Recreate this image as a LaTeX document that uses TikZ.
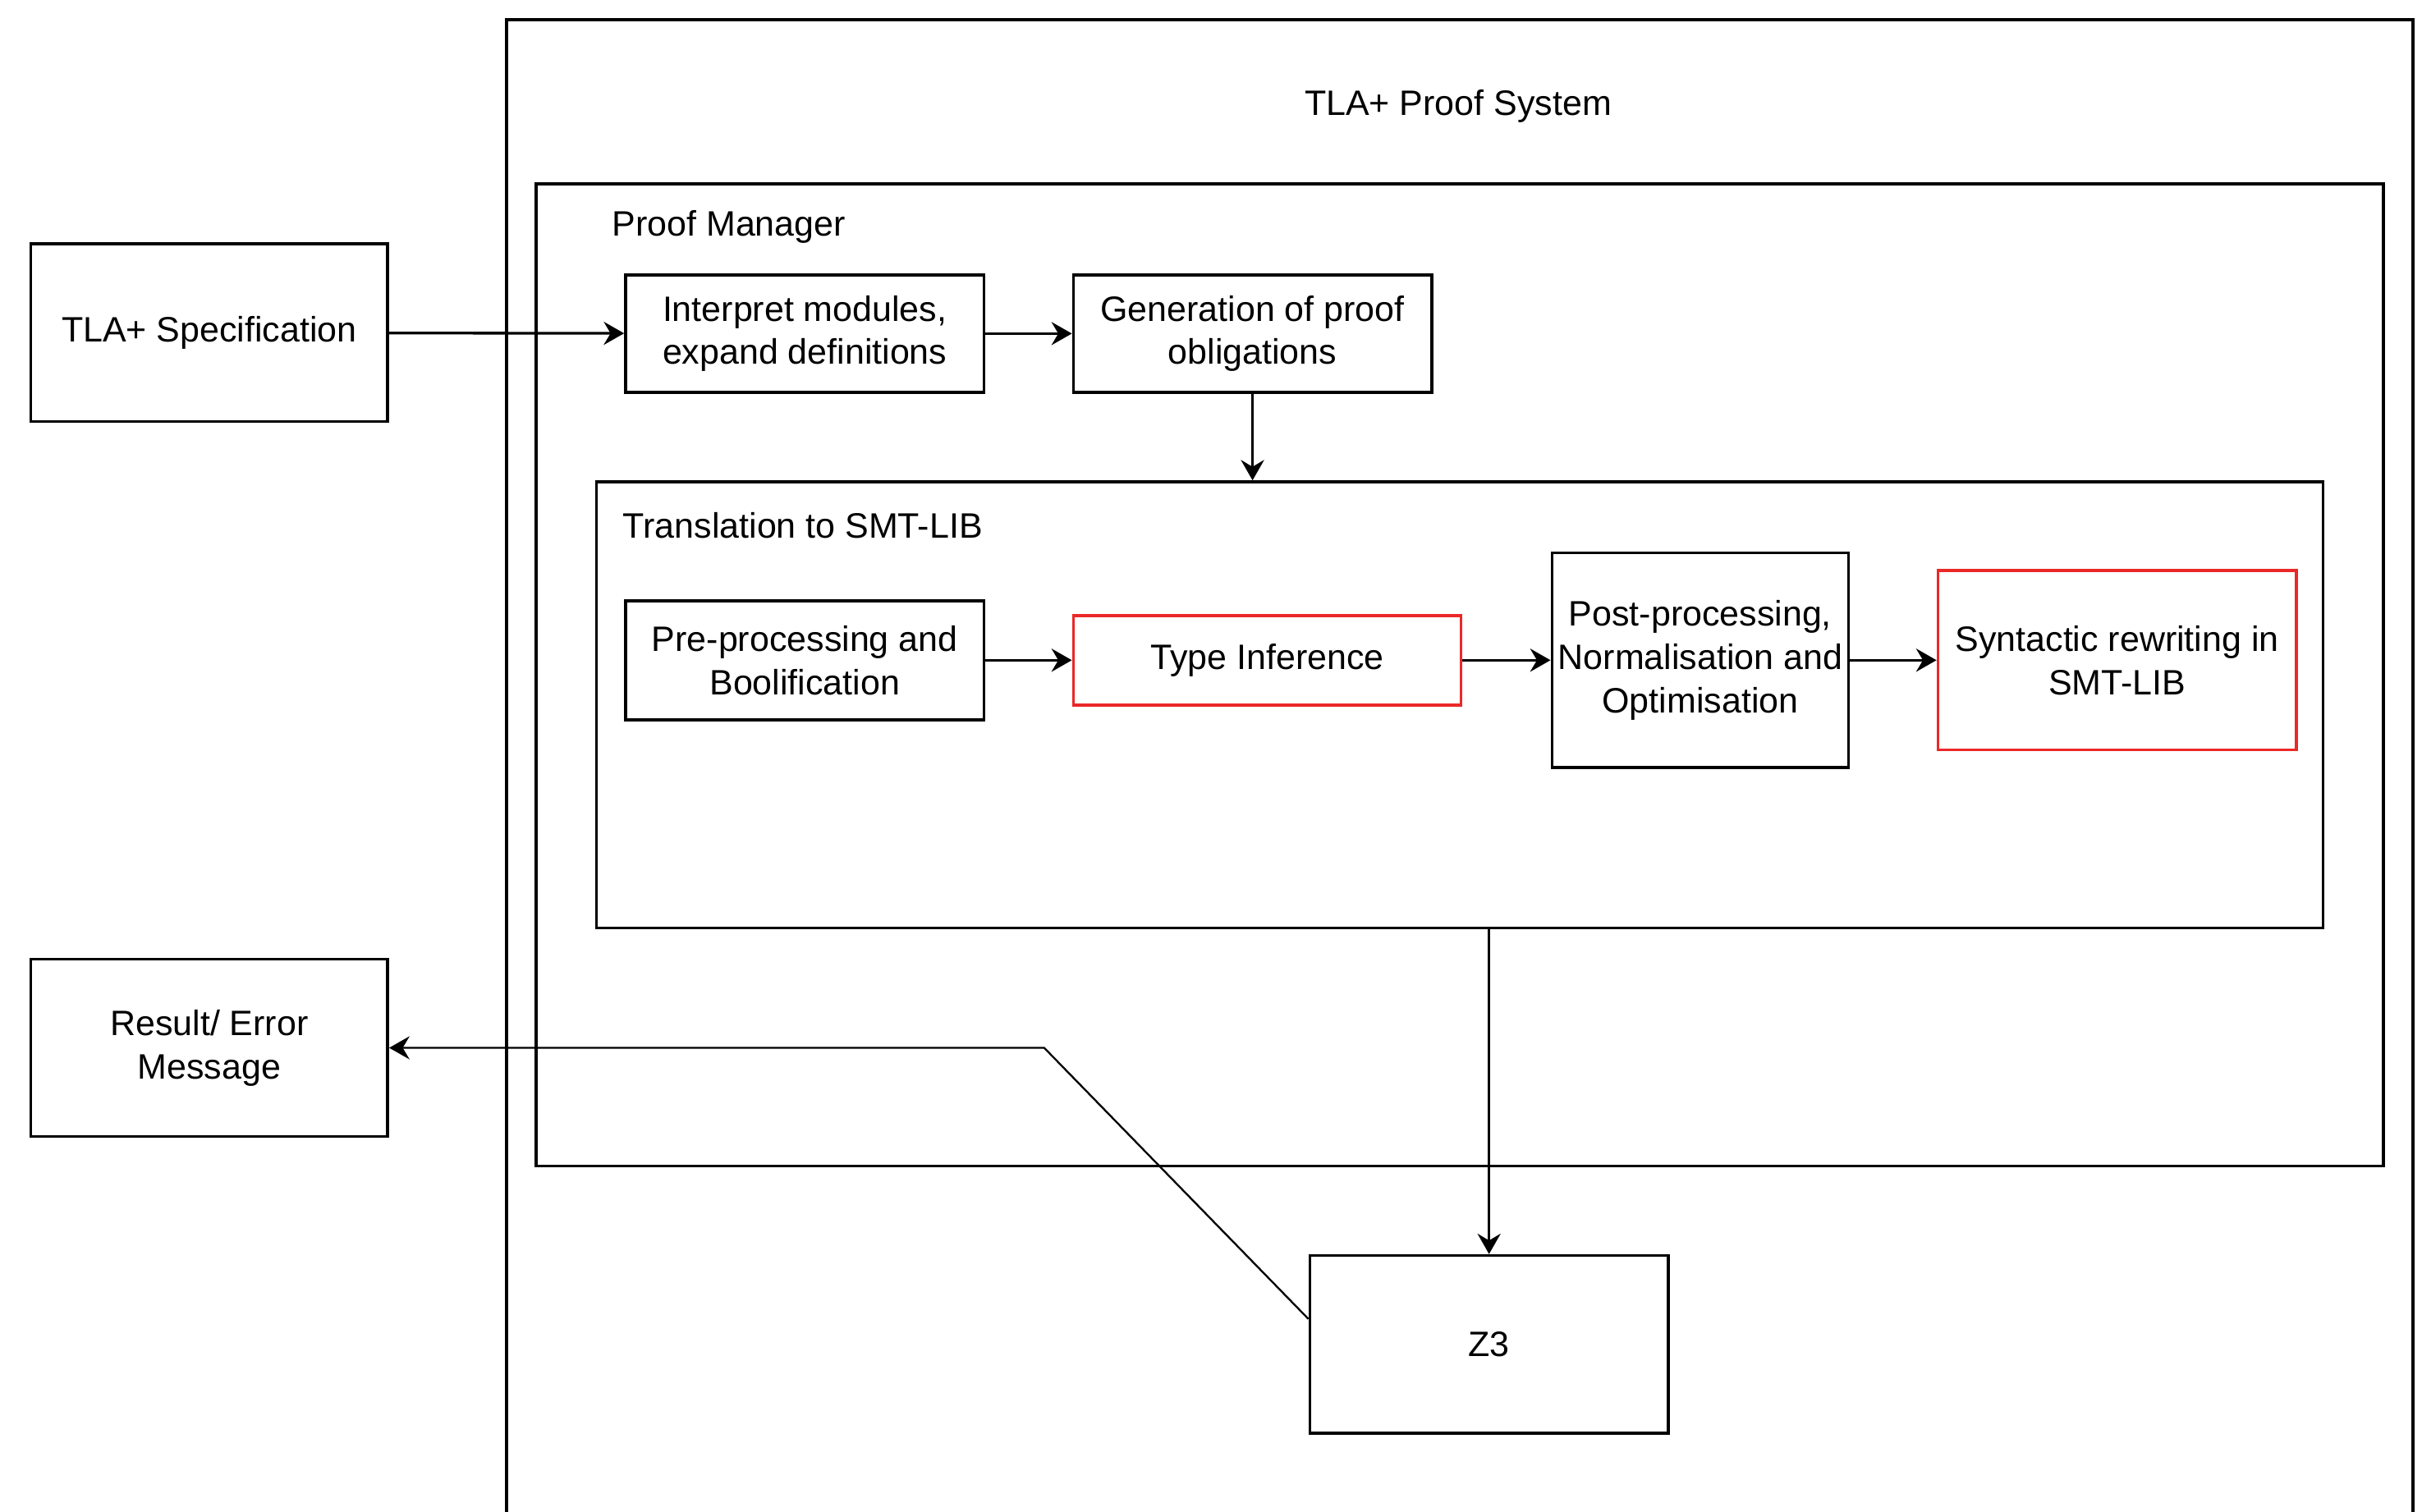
\documentclass[tikz,border=0pt]{standalone}
\usepackage{fontspec}
\setmainfont{Liberation Sans}
\usetikzlibrary{positioning,arrows.meta}
\definecolor{boxred}{RGB}{235,40,40}
\tikzset{
  blk/.style={rectangle, draw, line width=1.1pt, align=center, inner sep=0pt, font=\fontsize{13}{16}\selectfont},
  redblk/.style={blk, draw=boxred},
  lbl/.style={inner sep=0pt, font=\fontsize{13}{16}\selectfont},
}

\begin{document}
\begin{tikzpicture}[x=0.02cm, y=-0.02cm, >={Stealth[length=7.5pt,width=8.5pt,inset=2.5pt]}]
        \useasboundingbox (0,0) rectangle (1568,979);
        \draw[line width=1.2pt] (328,979) -- (328,13) -- (1562,13) -- (1562,979);
        \node[lbl] (title) at (944,69) {TLA+ Proof System};

        \node[blk, minimum width=23.92cm, minimum height=12.72cm] (pm) at (945,437) {};
        \node[lbl, anchor=west] (pmLabel) at (396,147) {Proof Manager};
        \node[blk, minimum width=22.36cm, minimum height=5.78cm] (trans) at (945,456.5) {};
        \node[lbl, anchor=west] (transLabel) at (403,340) {Translation to SMT-LIB};

        \node[blk, minimum width=4.62cm, minimum height=2.3cm] (spec) at (135.5,215.5) {TLA+ Specification};
        \node[blk, minimum width=4.62cm, minimum height=2.3cm] (result) at (135.5,678.5) {Result/ Error\\Message};

        \node[blk, minimum width=4.64cm, minimum height=1.52cm] (interp) at (521,216) {Interpret modules,\\expand definitions};
        \node[blk, minimum width=4.64cm, minimum height=1.52cm] (gen) [right = 1.12cm of interp] {Generation of proof\\obligations};

        \node[blk, minimum width=4.64cm, minimum height=1.54cm] (pre) at (521,427.5) {Pre-processing and\\Boolification};
        \node[redblk, minimum width=5.02cm, minimum height=1.16cm] (type) [right = 1.12cm of pre] {Type Inference};
        \node[blk, minimum width=3.84cm, minimum height=2.78cm] (post) [right = 1.14cm of type] {Post-processing,\\Normalisation and\\Optimisation};
        \node[redblk, minimum width=4.64cm, minimum height=2.32cm] (syn) [right = 1.12cm of post] {Syntactic rewriting in\\SMT-LIB};

        \node[blk, minimum width=4.64cm, minimum height=2.3cm] (z3) at (964,870.5) {Z3};
        \coordinate (bend) at (676,678.5);

        \draw[line width=1pt] (spec) edge[->] (interp);
        \draw[line width=1pt] (interp) edge[->] (gen);
        \draw[line width=1pt] (gen) edge[->] (trans.north -| gen.south);
        \draw[line width=1pt] (pre) edge[->] (type);
        \draw[line width=1pt] (type) edge[->] (post);
        \draw[line width=1pt] (post) edge[->] (syn);
        \draw[line width=1pt] (z3.north |- trans.south) edge[->] (z3.north);
        \draw[line width=0.7pt, ->] (z3.172) -- (bend) -- (result.east);
      \end{tikzpicture}
\end{document}
